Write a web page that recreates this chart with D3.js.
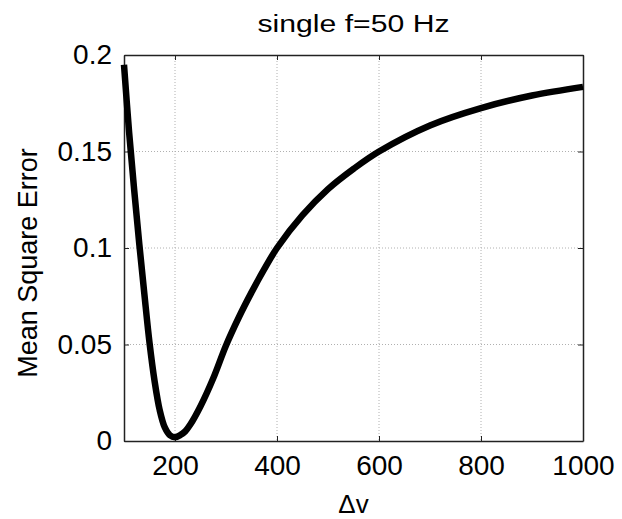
<!DOCTYPE html>
<html>
<head>
<meta charset="utf-8">
<script src="https://cdn.jsdelivr.net/npm/d3@7"></script>
<style>
  html, body { margin: 0; padding: 0; background: #fff; overflow: hidden; }
  svg { display: block; }
  text { font-family: "Liberation Sans", Arial, sans-serif; fill: #000; }
</style>
</head>
<body>
<div id="chart"></div>
<script>
// values
const dv = [100, 110, 120, 130, 140, 150, 160, 170, 180, 190, 200, 210, 220, 230, 250, 275, 300, 325, 350, 375, 400, 450, 500, 550, 600, 700, 800, 900, 1000];
const mse = [0.195, 0.16, 0.13, 0.102, 0.076, 0.051, 0.031, 0.016, 0.007, 0.003, 0.002, 0.003, 0.005, 0.0085, 0.018, 0.0325, 0.0495, 0.064, 0.077, 0.089, 0.1, 0.117, 0.1305, 0.141, 0.15, 0.1635, 0.1725, 0.179, 0.1835];
const xTicks = [200, 400, 600, 800, 1000];
const yTicks = [0, 0.05, 0.1, 0.15, 0.2];

const width = 622;
const height = 519;
const margin = { top: 55, right: 39, bottom: 78, left: 124 };
const w = width - margin.left - margin.right;
const h = height - margin.top - margin.bottom;

const data = dv.map((d, i) => ({ x: d, y: mse[i] }));

const xScale = d3.scaleLinear().domain([100, 1000]).range([0, w]);
const yScale = d3.scaleLinear().domain([0, 0.2]).range([h, 0]);

const svg = d3.select('#chart')
  .append('svg')
  .attr('width', width)
  .attr('height', height)
  .append('g')
  .attr('transform', "translate(" + margin.left + ", " + margin.top + ")");

// grid
svg.append('g')
  .selectAll('line')
  .data(xTicks.filter(d => d < 1000))
  .join('line')
  .attr('x1', d => xScale(d)).attr('x2', d => xScale(d))
  .attr('y1', 0).attr('y2', h)
  .style('stroke', '#b0b0b0')
  .style('stroke-dasharray', '1,2');
svg.append('g')
  .selectAll('line')
  .data(yTicks.filter(d => d > 0 && d < 0.2))
  .join('line')
  .attr('x1', 0).attr('x2', w)
  .attr('y1', d => yScale(d)).attr('y2', d => yScale(d))
  .style('stroke', '#b0b0b0')
  .style('stroke-dasharray', '1,2');

// axes, ticks pointing inward
const fontSize = 28;
const xAxis = svg.append('g')
  .attr('transform', 'translate(0,' + h + ')')
  .call(d3.axisBottom(xScale).tickValues(xTicks).tickSize(-5).tickPadding(14).tickSizeOuter(0).tickFormat(d3.format('d')));
const xAxisTop = svg.append('g')
  .call(d3.axisTop(xScale).tickValues(xTicks).tickSize(-5).tickSizeOuter(0).tickFormat(''));
const yAxis = svg.append('g')
  .call(d3.axisLeft(yScale).tickValues(yTicks).tickSize(-5).tickPadding(12).tickSizeOuter(0).tickFormat(d3.format('')));
const yAxisRight = svg.append('g')
  .attr('transform', 'translate(' + w + ',0)')
  .call(d3.axisRight(yScale).tickValues(yTicks).tickSize(-5).tickSizeOuter(0).tickFormat(''));

[xAxis, xAxisTop, yAxis, yAxisRight].forEach(a => {
  a.selectAll('path').style('stroke', '#222').style('stroke-width', '1.5px');
  a.selectAll('line').style('stroke', '#222');
  a.selectAll('text')
    .style('font-family', '"Liberation Sans", Arial, sans-serif')
    .style('font-size', fontSize + 'px')
    .style('fill', '#000');
});
xAxis.selectAll('text').attr('dy', '0.71em');

// curve
const line = d3.line()
  .x(d => xScale(d.x))
  .y(d => yScale(d.y))
  .curve(d3.curveCatmullRom.alpha(0.5));

svg.append('g')
  .append('path')
  .datum(data)
  .attr('d', line)
  .style('fill', 'none')
  .style('stroke', 'black')
  .style('stroke-width', '6.5px')
  .style('stroke-linejoin', 'round');

// labels
svg.append('text')
  .attr('x', w / 2)
  .attr('y', -23)
  .attr('text-anchor', 'middle')
  .attr('textLength', 192)
  .attr('lengthAdjust', 'spacingAndGlyphs')
  .style('font-size', '23px')
  .text('single f=50 Hz');

svg.append('text')
  .attr('x', w / 2)
  .attr('y', h + 72)
  .attr('text-anchor', 'middle')
  .style('font-size', '26px')
  .text('\u0394v');

svg.append('text')
  .attr('transform', 'translate(' + (37 - margin.left) + ',' + (263 - margin.top) + ') rotate(-90)')
  .attr('text-anchor', 'middle')
  .style('font-size', '27px')
  .text('Mean Square Error');
</script>
</body>
</html>
